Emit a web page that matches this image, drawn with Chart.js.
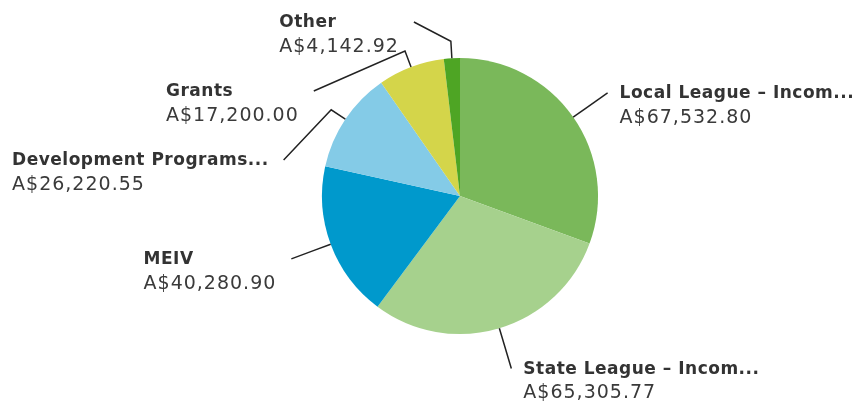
<!DOCTYPE html>
<html>
<head>
<meta charset="utf-8">
<script src="https://cdn.jsdelivr.net/npm/chart.js@4.4.0/dist/chart.umd.min.js"></script>
<style>
    html, body { margin: 0; padding: 0; background: #fff; }
    #wrap { width: 862px; height: 401px; }
</style>
</head>
<body>
<div id="wrap"><canvas id="incomeChart" width="862" height="401"></canvas></div>
<script>
// income breakdown
const categories = ['Local League \u2013 Incom...', 'State League \u2013 Incom...', 'MEIV', 'Development Programs...', 'Grants', 'Other'];
const amounts = [67532.80, 65305.77, 40280.90, 26220.55, 17200.00, 4142.92];
const sliceColors = ['#7ab85a', '#a6d18d', '#0099cc', '#84cbe7', '#d4d54a', '#4ea524'];

function formatMoney(v) {
    const parts = v.toFixed(2).split('.');
    parts[0] = parts[0].replace(/\B(?=(\d{3})+(?!\d))/g, ',');
    return 'A$' + parts.join('.');
}

// labels with connector lines, pushed apart per side (like the original)
const labelPlugin = {
    id: 'pieLabels',
    afterDatasetsDraw(chart) {
        const ctx = chart.ctx;
        const meta = chart.getDatasetMeta(0);
        const nameFont = 'bold 17px "DejaVu Sans"';
        const valueFont = '19px "DejaVu Sans"';
        const slotH = 69;
        const topMin = 22;
        const items = meta.data.map((arc, i) => {
            const mid = (arc.startAngle + arc.endAngle) / 2;
            const labR = arc.outerRadius + 42;
            return {
                i: i, arc: arc, mid: mid, labR: labR,
                right: Math.cos(mid) >= 0,
                y: arc.y + Math.sin(mid) * labR
            };
        });
        [true, false].forEach(side => {
            const list = items.filter(it => it.right === side).sort((a, b) => a.y - b.y);
            let prev = -Infinity;
            list.forEach(it => {
                it.y = Math.max(it.y, prev + slotH, topMin);
                prev = it.y;
            });
        });
        ctx.save();
        items.forEach(it => {
            const arc = it.arc;
            const r = arc.outerRadius;
            const ex = arc.x + Math.cos(it.mid) * r;
            const ey = arc.y + Math.sin(it.mid) * r;
            const kx = arc.x + Math.cos(it.mid) * (r + 17);
            const ky = arc.y + Math.sin(it.mid) * (r + 17);
            const dy = it.y - arc.y;
            const dx = Math.sqrt(Math.max(0, it.labR * it.labR - dy * dy));
            const ax = it.right ? arc.x + dx : arc.x - dx;
            const ay = it.y;

            ctx.strokeStyle = '#222';
            ctx.lineWidth = 1.5;
            ctx.beginPath();
            ctx.moveTo(ex, ey);
            ctx.lineTo(kx, ky);
            ctx.lineTo(ax, ay);
            ctx.stroke();

            const name = chart.data.labels[it.i];
            const value = formatMoney(chart.data.datasets[0].data[it.i]);
            ctx.font = nameFont;
            ctx.letterSpacing = '0.5px';
            const w1 = ctx.measureText(name).width;
            ctx.font = valueFont;
            ctx.letterSpacing = '1px';
            const w2 = ctx.measureText(value).width;
            const blockW = Math.max(w1, w2);
            const tx = it.right ? ax + 12 : ax - 15 - blockW;
            ctx.textAlign = 'left';
            ctx.textBaseline = 'middle';
            ctx.fillStyle = '#333';
            ctx.font = nameFont;
            ctx.letterSpacing = '0.5px';
            ctx.fillText(name, tx, ay + 1);
            ctx.font = valueFont;
            ctx.letterSpacing = '1px';
            ctx.fillStyle = '#3a3a3a';
            ctx.fillText(value, tx, ay + 25);
        });
        ctx.restore();
    }
};

const ctx = document.getElementById('incomeChart').getContext('2d');
new Chart(ctx, {
    type: 'pie',
    data: {
        labels: categories,
        datasets: [{
            data: amounts,
            backgroundColor: sliceColors,
            borderWidth: 0
        }]
    },
    options: {
        responsive: false,
        animation: false,
        layout: { padding: { left: 58, right: 0, top: 58, bottom: 67 } },
        plugins: {
            legend: { display: false },
            tooltip: { enabled: false }
        }
    },
    plugins: [labelPlugin]
});
</script>
</body>
</html>
